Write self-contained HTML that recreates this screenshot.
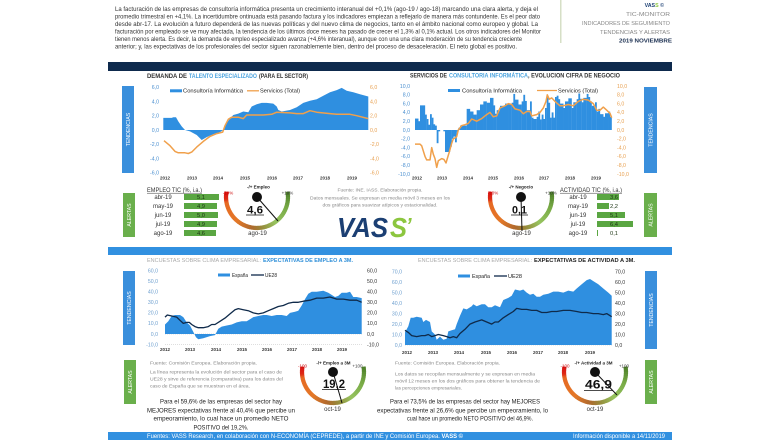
<!DOCTYPE html>
<html><head><meta charset="utf-8">
<style>
html,body{margin:0;padding:0;background:#fff;}
svg{display:block;font-family:"Liberation Sans",sans-serif;}
</style></head><body>
<svg id="s" width="780" height="440" viewBox="0 0 780 440" xmlns="http://www.w3.org/2000/svg">
<rect width="780" height="440" fill="#fff"/>
<!-- header paragraph -->
<g font-size="6.3" fill="#333">
<text x="115" y="11" textLength="423" lengthAdjust="spacingAndGlyphs">La facturación de las empresas de consultoría informática presenta un crecimiento interanual del +0,1% (ago-19 / ago-18) marcando una clara alerta, y deja el</text>
<text x="115" y="18.5" textLength="425" lengthAdjust="spacingAndGlyphs">promedio trimestral en +4,1%. La incertidumbre ontinuada está pasando factura y los indicadores empiezan a reflejarlo de manera más contundente. Es el peor dato</text>
<text x="115" y="26" textLength="423" lengthAdjust="spacingAndGlyphs">desde abr-17. La evolución a futuro dependerá de las nuevas políticas y del nuevo clima de negocios, tanto en el ámbito nacional como europeo y global. La</text>
<text x="115" y="33.5" textLength="426" lengthAdjust="spacingAndGlyphs">facturación por empleado se ve muy afectada, la tendencia de los últimos doce meses ha pasado de crecer el 1,3% al 0,1% actual. Los otros indicadores del Monitor</text>
<text x="115" y="41" textLength="407" lengthAdjust="spacingAndGlyphs">tienen menos alerta. Es decir, la demanda de empleo especializado avanza (+4,6% interanual), aunque con una una clara moderación de su tendencia creciente</text>
<text x="115" y="48.5" textLength="402" lengthAdjust="spacingAndGlyphs">anterior; y, las expectativas de los profesionales del sector siguen razonablemente bien, dentro del proceso de desaceleración. El neto global es positivo.</text>
</g>
<rect x="560" y="0" width="1.5" height="43" fill="#d6dfc6"/>
<g font-size="5.3" fill="#888" text-anchor="end">
<text x="664" y="7" font-weight="bold" fill="#1b3f73">VAS<tspan fill="#8cc63f">S</tspan> ©</text>
<text x="670" y="16" textLength="44" lengthAdjust="spacingAndGlyphs">TIC-MONITOR</text>
<text x="670" y="25" textLength="88" lengthAdjust="spacingAndGlyphs">INDICADORES DE SEGUIMIENTO</text>
<text x="670" y="34" textLength="70" lengthAdjust="spacingAndGlyphs">TENDENCIAS Y ALERTAS</text>
<text x="672" y="42.5" font-weight="bold" fill="#1b2f50" textLength="53" lengthAdjust="spacingAndGlyphs">2019 NOVIEMBRE</text>
</g>
<rect x="108" y="62" width="564" height="9" fill="#0e2a4d"/>

<!-- titles -->
<g font-size="6" font-weight="bold">
<text x="147" y="77.8" fill="#333" textLength="40" lengthAdjust="spacingAndGlyphs">DEMANDA DE</text>
<text x="189" y="77.8" fill="#4aa3df" textLength="68" lengthAdjust="spacingAndGlyphs">TALENTO ESPECIALIZADO</text>
<text x="259" y="77.8" fill="#333" textLength="49" lengthAdjust="spacingAndGlyphs">(PARA EL SECTOR)</text>
<text x="410" y="77.5" fill="#333" textLength="37" lengthAdjust="spacingAndGlyphs">SERVICIOS DE</text>
<text x="449" y="77.5" fill="#4aa3df" textLength="79" lengthAdjust="spacingAndGlyphs">CONSULTORIA INFORMÁTICA</text>
<text x="528" y="77.5" fill="#333" textLength="92" lengthAdjust="spacingAndGlyphs">, EVOLUCION CIFRA DE NEGOCIO</text>
</g>
<g font-size="5.8">
<text x="147" y="262" fill="#aaa" textLength="114" lengthAdjust="spacingAndGlyphs">ENCUESTAS SOBRE CLIMA EMPRESARIAL:</text>
<text x="263" y="262" fill="#2f8fd8" font-weight="bold" textLength="90" lengthAdjust="spacingAndGlyphs">EXPECTATIVAS DE EMPLEO A 3M.</text>
<text x="418" y="262" fill="#aaa" textLength="114" lengthAdjust="spacingAndGlyphs">ENCUESTAS SOBRE CLIMA EMPRESARIAL:</text>
<text x="534" y="262" fill="#222" font-weight="bold" textLength="101" lengthAdjust="spacingAndGlyphs">EXPECTATIVAS DE ACTIVIDAD A 3M.</text>
</g>

<!-- side boxes -->
<g fill="#3a8fdc">
<rect x="122" y="86" width="12" height="87"/>
<rect x="644" y="87" width="13" height="86"/>
<rect x="123" y="271" width="12" height="74"/>
<rect x="645" y="271" width="12" height="78"/>
</g>
<g fill="#6aaf4c">
<rect x="123" y="193" width="12" height="44"/>
<rect x="644" y="193" width="13" height="44"/>
<rect x="124" y="360" width="12" height="44"/>
<rect x="645" y="360" width="12" height="44"/>
</g>
<g font-size="5.2" fill="#fff" text-anchor="middle">
<text transform="translate(130,129.5) rotate(-90)">TENDENCIAS</text>
<text transform="translate(652.5,130) rotate(-90)">TENDENCIAS</text>
<text transform="translate(131,308) rotate(-90)">TENDENCIAS</text>
<text transform="translate(653,310) rotate(-90)">TENDENCIAS</text>
<text transform="translate(131,215) rotate(-90)">ALERTAS</text>
<text transform="translate(652.5,215) rotate(-90)">ALERTAS</text>
<text transform="translate(132,382) rotate(-90)">ALERTAS</text>
<text transform="translate(653,382) rotate(-90)">ALERTAS</text>
</g>

<!-- gridlines bottom charts -->
<line x1="165" y1="334" x2="362" y2="334" stroke="#bbb" stroke-width="0.6" stroke-dasharray="1,1"/>
<line x1="165" y1="344.6" x2="362" y2="344.6" stroke="#ccc" stroke-width="0.6" stroke-dasharray="1,1"/>
<line x1="405" y1="345" x2="612" y2="345" stroke="#bbb" stroke-width="0.6" stroke-dasharray="1,1"/>

<g id="dyn"></g>

<!-- axis labels top-left -->
<g font-size="5.2" fill="#4a8fd0" text-anchor="end">
<text x="159" y="89">6,0</text><text x="159" y="103.3">4,0</text><text x="159" y="117.5">2,0</text><text x="159" y="131.8">0,0</text><text x="159" y="146.1">-2,0</text><text x="159" y="160.3">-4,0</text><text x="159" y="174.6">-6,0</text>
</g>
<g font-size="5.2" fill="#e8a050">
<text x="370" y="89">6,0</text><text x="370" y="103.3">4,0</text><text x="370" y="117.5">2,0</text><text x="370" y="131.8">0,0</text><text x="370" y="146.1">-2,0</text><text x="370" y="160.3">-4,0</text><text x="370" y="174.6">-6,0</text>
</g>
<!-- axis labels top-right -->
<g font-size="5.2" fill="#4a8fd0" text-anchor="end">
<text x="410" y="87.8">10,0</text><text x="410" y="96.6">8,0</text><text x="410" y="105.4">6,0</text><text x="410" y="114.2">4,0</text><text x="410" y="123">2,0</text><text x="410" y="131.8">0,0</text><text x="410" y="140.6">-2,0</text><text x="410" y="149.4">-4,0</text><text x="410" y="158.2">-6,0</text><text x="410" y="167">-8,0</text><text x="410" y="175.8">-10,0</text>
</g>
<g font-size="5.2" fill="#e8a050">
<text x="617" y="87.8">10,0</text><text x="617" y="96.6">8,0</text><text x="617" y="105.4">6,0</text><text x="617" y="114.2">4,0</text><text x="617" y="123">2,0</text><text x="617" y="131.8">0,0</text><text x="617" y="140.6">-2,0</text><text x="617" y="149.4">-4,0</text><text x="617" y="158.2">-6,0</text><text x="617" y="167">-8,0</text><text x="617" y="175.8">-10,0</text>
</g>
<!-- axis labels bottom-left -->
<g font-size="5.2" fill="#6d9fcf" text-anchor="end">
<text x="158" y="272.4">60,0</text><text x="158" y="283">50,0</text><text x="158" y="293.5">40,0</text><text x="158" y="304.1">30,0</text><text x="158" y="314.7">20,0</text><text x="158" y="325.2">10,0</text><text x="158" y="335.8">0,0</text><text x="158" y="346.4">-10,0</text>
</g>
<g font-size="5.2" fill="#333">
<text x="367" y="272.4">60,0</text><text x="367" y="283">50,0</text><text x="367" y="293.5">40,0</text><text x="367" y="304.1">30,0</text><text x="367" y="314.7">20,0</text><text x="367" y="325.2">10,0</text><text x="367" y="335.8">0,0</text><text x="367" y="346.4">-10,0</text>
</g>
<!-- axis labels bottom-right -->
<g font-size="5.2" fill="#6d9fcf" text-anchor="end">
<text x="402" y="273.5">70,0</text><text x="402" y="284">60,0</text><text x="402" y="294.5">50,0</text><text x="402" y="304.9">40,0</text><text x="402" y="315.4">30,0</text><text x="402" y="325.9">20,0</text><text x="402" y="336.3">10,0</text><text x="402" y="346.8">0,0</text>
</g>
<g font-size="5.2" fill="#333">
<text x="615" y="273.5">70,0</text><text x="615" y="284">60,0</text><text x="615" y="294.5">50,0</text><text x="615" y="304.9">40,0</text><text x="615" y="315.4">30,0</text><text x="615" y="325.9">20,0</text><text x="615" y="336.3">10,0</text><text x="615" y="346.8">0,0</text>
</g>
<!-- years -->
<g font-size="4.5" fill="#333" text-anchor="middle" font-weight="bold">
<text x="165" y="179.6">2012</text><text x="192" y="179.6">2013</text><text x="218" y="179.6">2014</text><text x="245" y="179.6">2015</text><text x="272" y="179.6">2016</text><text x="298" y="179.6">2017</text><text x="325" y="179.6">2018</text><text x="352" y="179.6">2019</text>
<text x="417" y="179.6">2012</text><text x="442" y="179.6">2013</text><text x="468" y="179.6">2014</text><text x="493" y="179.6">2015</text><text x="519" y="179.6">2016</text><text x="544" y="179.6">2017</text><text x="570" y="179.6">2018</text><text x="596" y="179.6">2019</text>
<text x="165" y="350.8">2012</text><text x="190" y="350.8">2013</text><text x="216" y="350.8">2014</text><text x="242" y="350.8">2015</text><text x="267" y="350.8">2016</text><text x="292" y="350.8">2017</text><text x="317" y="350.8">2018</text><text x="342" y="350.8">2019</text>
<text x="407" y="353.8">2012</text><text x="433" y="353.8">2013</text><text x="459" y="353.8">2014</text><text x="486" y="353.8">2015</text><text x="512" y="353.8">2016</text><text x="538" y="353.8">2017</text><text x="563" y="353.8">2018</text><text x="590" y="353.8">2019</text>
</g>

<!-- legends -->
<g font-size="5.6" fill="#222">
<rect x="170" y="89.3" width="12" height="3" fill="#2f8fe0"/>
<text x="183" y="92.6" textLength="60" lengthAdjust="spacingAndGlyphs">Consultoría Informática</text>
<line x1="247" y1="90.8" x2="259" y2="90.8" stroke="#f0a04b" stroke-width="1.3"/>
<text x="260" y="92.6" textLength="40" lengthAdjust="spacingAndGlyphs">Servicios (Total)</text>
<rect x="448" y="89" width="12" height="3" fill="#2f8fe0"/>
<text x="462" y="92.3" textLength="60" lengthAdjust="spacingAndGlyphs">Consultoría Informática</text>
<line x1="537" y1="90.5" x2="557" y2="90.5" stroke="#f0a04b" stroke-width="1.3"/>
<text x="558" y="92.3" textLength="40" lengthAdjust="spacingAndGlyphs">Servicios (Total)</text>
<rect x="218" y="273.5" width="12" height="3" fill="#2f8fe0"/>
<text x="232" y="277" textLength="16" lengthAdjust="spacingAndGlyphs">España</text>
<line x1="251" y1="275" x2="264" y2="275" stroke="#0f2a4a" stroke-width="1.3"/>
<text x="265" y="277" textLength="12" lengthAdjust="spacingAndGlyphs">UE28</text>
<rect x="458" y="274.5" width="12" height="3" fill="#2f8fe0"/>
<text x="472" y="278" textLength="18" lengthAdjust="spacingAndGlyphs">España</text>
<line x1="494" y1="276" x2="507" y2="276" stroke="#0f2a4a" stroke-width="1.3"/>
<text x="508" y="278" textLength="14" lengthAdjust="spacingAndGlyphs">UE28</text>
</g>

<!-- alert tables -->
<g font-size="6" fill="#333">
<text x="147" y="192" textLength="55" lengthAdjust="spacingAndGlyphs">EMPLEO TIC (%, i.a.)</text>
<line x1="147" y1="193.2" x2="202" y2="193.2" stroke="#333" stroke-width="0.5"/>
<text x="560" y="192" textLength="62" lengthAdjust="spacingAndGlyphs">ACTIVIDAD TIC (%, i.a.)</text>
<line x1="560" y1="193.2" x2="622" y2="193.2" stroke="#333" stroke-width="0.5"/>
<g text-anchor="middle">
<text x="163" y="199">abr-19</text><text x="163" y="208">may-19</text><text x="163" y="217">jun-19</text><text x="163" y="226">jul-19</text><text x="163" y="235">ago-19</text>
<text x="578" y="199">abr-19</text><text x="578" y="208">may-19</text><text x="578" y="217">jun-19</text><text x="578" y="226">jul-19</text><text x="578" y="235">ago-19</text>
</g>
</g>
<g fill="#5aa642">
<rect x="184" y="194" width="35" height="6"/>
<rect x="184" y="203" width="33" height="6"/>
<rect x="184" y="212" width="34" height="6"/>
<rect x="184" y="221" width="33" height="6"/>
<rect x="184" y="230" width="32" height="6"/>
<rect x="597" y="194" width="22" height="6"/>
<rect x="597" y="203" width="12" height="6"/>
<rect x="597" y="212" width="28" height="6"/>
<rect x="597" y="221" width="36" height="6"/>
<rect x="597" y="230" width="1" height="6"/>
</g>
<g font-size="5.8" fill="#1d3514" text-anchor="middle">
<text x="201" y="199">5,1</text><text x="201" y="208">4,9</text><text x="201" y="217">5,0</text><text x="201" y="226">4,9</text><text x="201" y="235">4,6</text>
<text x="614" y="199">3,6</text><text x="614" y="208">2,2</text><text x="614" y="217">5,1</text><text x="614" y="226">6,4</text><text x="614" y="235">0,1</text>
</g>

<!-- notes top -->
<g font-size="4.8" fill="#888" text-anchor="middle">
<text x="380" y="191.7" textLength="85" lengthAdjust="spacingAndGlyphs">Fuente: INE. IASS. Elaboración propia.</text>
<text x="380" y="199.5" textLength="140" lengthAdjust="spacingAndGlyphs">Datos mensuales. Se expresan en media móvil 3 meses en los</text>
<text x="380" y="206.7" textLength="115" lengthAdjust="spacingAndGlyphs">dos gráficos para suavizar atípicos y estacionalidad.</text>
</g>
<!-- VASS logo -->
<g font-weight="bold" font-style="italic" font-size="28">
<text x="337" y="237" fill="#1b3f73" textLength="51" lengthAdjust="spacingAndGlyphs">VAS</text>
<text x="390" y="237" fill="#8cc63f" textLength="17" lengthAdjust="spacingAndGlyphs">S</text>
<text x="406" y="232" fill="#8cc63f" font-size="20">’</text>
</g>

<!-- separator bar -->
<rect x="108" y="247" width="564" height="8" fill="#3190e0"/>

<!-- bottom notes -->
<g font-size="4.8" fill="#888">
<text x="150" y="364.7" textLength="107" lengthAdjust="spacingAndGlyphs">Fuente: Comisión Europea. Elaboración propia.</text>
<text x="150" y="373.7" textLength="132" lengthAdjust="spacingAndGlyphs">La línea representa la evolución del sector para el caso de</text>
<text x="150" y="380.7" textLength="133" lengthAdjust="spacingAndGlyphs">UE28 y sirve de referencia (comparativa) para los datos del</text>
<text x="150" y="387.7" textLength="100" lengthAdjust="spacingAndGlyphs">caso de España que se muestran en el área.</text>
<text x="395" y="364.7" textLength="105" lengthAdjust="spacingAndGlyphs">Fuente: Comisión Europea. Elaboración propia.</text>
<text x="395" y="375.7" textLength="140" lengthAdjust="spacingAndGlyphs">Los datos se recopilan mensualmente y  se expresan en media</text>
<text x="395" y="382.7" textLength="145" lengthAdjust="spacingAndGlyphs">móvil 12 meses  en los dos gráficos para obtener la tendencia de</text>
<text x="395" y="389.7" textLength="67" lengthAdjust="spacingAndGlyphs">las percepciones empresariales.</text>
</g>
<g font-size="6.6" fill="#222" text-anchor="middle">
<text x="221" y="403.3" textLength="122" lengthAdjust="spacingAndGlyphs">Para el 59,6% de las empresas del sector hay</text>
<text x="221" y="412.3" textLength="148" lengthAdjust="spacingAndGlyphs">MEJORES expectativas frente al 40,4% que percibe un</text>
<text x="221" y="420.3" textLength="135" lengthAdjust="spacingAndGlyphs">empeoramiento, lo cual hace un promedio NETO</text>
<text x="221" y="429.3" textLength="55" lengthAdjust="spacingAndGlyphs">POSITIVO del 19,2%.</text>
<text x="465" y="403.3" textLength="150" lengthAdjust="spacingAndGlyphs">Para el 73,5% de las empresas del sector hay MEJORES</text>
<text x="462.5" y="412.3" textLength="171" lengthAdjust="spacingAndGlyphs">expectativas frente al 26,6% que percibe un empeoramiento, lo</text>
<text x="470" y="420.3" textLength="126" lengthAdjust="spacingAndGlyphs">cual hace un promedio NETO POSITIVO del 46,9%.</text>
</g>

<!-- footer -->
<rect x="108" y="432" width="564" height="8" fill="#3190e0"/>
<g font-size="6" fill="#fff">
<text x="147" y="438.2" textLength="316" lengthAdjust="spacingAndGlyphs">Fuentes: VASS Research, en colaboración con N-ECONOMÍA (CEPREDE), a partir de INE y Comisión Europea. <tspan font-weight="bold">VASS ©</tspan></text>
<text x="665" y="438.2" text-anchor="end" textLength="92" lengthAdjust="spacingAndGlyphs">Información disponible a 14/11/2019</text>
</g>

<!-- gauge labels -->
<g id="gauges"></g>
<g font-size="4.5">
<text x="258.5" y="188.5" text-anchor="middle" font-weight="bold" fill="#222">-/+ Empleo</text>
<text x="228" y="194.5" text-anchor="middle" fill="#c00">-10%</text>
<text x="287.5" y="194.5" text-anchor="middle" fill="#333">+10%</text>
<text x="521" y="188.5" text-anchor="middle" font-weight="bold" fill="#222">-/+ Negocio</text>
<text x="493" y="194.5" text-anchor="middle" fill="#c00">-10%</text>
<text x="551" y="194.5" text-anchor="middle" fill="#333">+10%</text>
<text x="333.5" y="364.5" text-anchor="middle" font-weight="bold" fill="#222">-/+ Empleo a 3M</text>
<text x="302.5" y="367.5" text-anchor="middle" fill="#c00">-100</text>
<text x="357.5" y="367.5" text-anchor="middle" fill="#333">+100</text>
<text x="593.5" y="364.5" text-anchor="middle" font-weight="bold" fill="#222">-/+ Actividad a 3M</text>
<text x="565" y="367.5" text-anchor="middle" fill="#c00">-100</text>
<text x="624" y="367.5" text-anchor="middle" fill="#333">+100</text>
</g>
<g font-size="6" fill="#333" text-anchor="middle">
<text x="257.5" y="235">ago-19</text>
<text x="521.5" y="235">ago-19</text>
<text x="332.5" y="411">oct-19</text>
<text x="595" y="411">oct-19</text>
</g>
<g font-weight="bold" fill="#111" text-anchor="middle">
<text x="255" y="213.5" font-size="11" textLength="16" lengthAdjust="spacingAndGlyphs">4,6</text>
<line x1="246" y1="215" x2="264" y2="215" stroke="#111" stroke-width="0.8"/>
<text x="519.5" y="213.5" font-size="11" textLength="15" lengthAdjust="spacingAndGlyphs">0,1</text>
<line x1="511" y1="215" x2="528" y2="215" stroke="#111" stroke-width="0.8"/>
<text x="334" y="388" font-size="12" textLength="22" lengthAdjust="spacingAndGlyphs">19,2</text>
<line x1="322" y1="389.5" x2="346" y2="389.5" stroke="#111" stroke-width="0.8"/>
<text x="598.5" y="388.5" font-size="12" textLength="27" lengthAdjust="spacingAndGlyphs">46,9</text>
<line x1="584" y1="390.5" x2="613" y2="390.5" stroke="#111" stroke-width="0.8"/>
</g>
</svg>
<script>
(function(){
var NS='http://www.w3.org/2000/svg';
var dyn=document.getElementById('dyn');
var gg=document.getElementById('gauges');
function el(p,tag,a){var e=document.createElementNS(NS,tag);for(var k in a)e.setAttribute(k,a[k]);p.appendChild(e);return e;}
function pts(d,ox,base,k){return d.map(function(q){return [ox+q[0]/3, base-k*q[1]];});}
function str(p){return p.map(function(q){return q[0].toFixed(1)+','+q[1].toFixed(1);}).join(' ');}
function area(d,ox,base,k,c){var p=pts(d,ox,base,k);var s=str(p)+' '+p[p.length-1][0].toFixed(1)+','+base+' '+p[0][0].toFixed(1)+','+base;el(dyn,'polygon',{points:s,fill:c});}
function line(d,ox,base,k,c,w){el(dyn,'polyline',{points:str(pts(d,ox,base,k)),fill:'none',stroke:c,'stroke-width':w,'stroke-linejoin':'round'});}
function bars(d,ox,base,k,c){d.forEach(function(b){var x=ox+b[0]/3,w=(b[1]-b[0])/3,h=k*b[2];var y=h>=0?base-h:base;el(dyn,'rect',{x:x.toFixed(2),y:y.toFixed(2),width:(w+0.15).toFixed(2),height:Math.abs(h).toFixed(2),fill:c});});}

var BLUE='#2f8fe0',ORG='#f0a04b',NAVY='#0f2a4a';
area([[220,1.7],[245,1.7],[250,1.8],[258,1.8],[265,1.2],[275,0.5],[285,0],[300,-0.2],[320,-0.7],[335,-1.4],[350,-1.0],[370,-0.6],[390,-0.3],[400,0],[410,1.0],[420,1.6],[430,2.1],[445,2.3],[460,2.6],[475,2.5],[485,3.3],[500,3.6],[515,3.8],[530,3.8],[550,3.7],[560,3.3],[565,2.8],[575,2.6],[600,2.8],[620,3.2],[640,3.8],[660,4.1],[680,4.3],[700,4.8],[720,5.3],[740,5.6],[755,5.9],[770,5.5],[790,5.3],[810,5.0],[835,4.7]],90,130,7.13,BLUE);
line([[222,-1.5],[240,-2.2],[255,-3.0],[265,-3.2],[285,-3.2],[295,-3.3],[305,-3.1],[320,-2.4],[340,-1.6],[360,-0.9],[380,-0.5],[398,-0.3],[405,0.6],[415,1.5],[425,1.8],[445,1.8],[460,1.6],[470,2.1],[490,2.1],[520,2.1],[545,2.2],[560,2.5],[600,2.4],[620,2.3],[640,2.3],[660,2.7],[680,2.5],[720,2.3],[740,2.2],[780,2.2],[800,2.0],[835,1.6]],90,130,7.13,ORG,1.5);
bars([[75,85,2.6],[85,90,2.0],[90,105,5.6],[105,110,3.5],[110,115,2.5],[115,120,1.2],[120,125,3.6],[125,130,2.8],[130,135,1.3],[135,140,1.0],[140,145,-3.0],[145,150,-0.3],[160,165,-0.3],[165,180,-5.0],[180,185,-3.8],[185,190,-2.0],[190,195,-1.5],[195,200,-2.8],[200,205,-0.5],[205,210,0.5],[210,230,1.0],[230,240,4.8],[240,250,4.2],[250,260,3.5],[260,270,4.5],[270,280,5.8],[280,290,6.5],[290,300,6.2],[300,310,7.3],[310,315,5.6],[315,320,3.7],[320,330,4.5],[330,345,5.5],[345,355,6.0],[355,365,5.8],[365,370,6.2],[370,375,8.2],[375,385,6.9],[385,395,5.8],[395,400,6.5],[400,405,8.0],[405,410,6.6],[410,420,4.5],[420,425,6.5],[425,430,2.8],[430,440,2.5],[440,445,3.0],[445,450,4.2],[450,455,2.4],[455,460,3.5],[460,465,2.5],[465,470,5.0],[470,475,7.8],[475,480,6.2],[480,485,2.8],[485,490,4.0],[490,495,2.8],[495,500,7.5],[500,505,7.8],[505,510,7.0],[510,520,6.0],[520,525,5.0],[525,535,6.5],[535,545,7.2],[545,550,5.0],[550,560,6.3],[560,565,7.0],[565,570,8.3],[570,575,7.1],[575,580,6.3],[580,590,7.3],[590,595,8.2],[595,600,7.5],[600,605,6.5],[605,615,5.5],[615,620,6.3],[620,625,4.2],[625,630,4.8],[630,640,3.6],[640,645,3.0],[645,655,3.8],[655,660,4.2],[660,665,3.0]],390,130,4.4,BLUE);
line([[75,-3.2],[90,-3.2],[95,-3.6],[105,-6.0],[110,-6.8],[120,-6.8],[125,-4.0],[130,-5.5],[135,-6.5],[140,-8.5],[145,-7.0],[155,-6.5],[162,-6.7],[168,-7.5],[172,-6.5],[178,-5.0],[185,-3.0],[190,-2.0],[195,-1.8],[200,-1.5],[205,0],[215,1.0],[225,1.2],[235,1.5],[245,2.5],[260,2.0],[275,2.6],[290,3.5],[300,4.0],[310,3.0],[320,3.2],[330,5.0],[345,5.5],[355,6.0],[365,5.8],[375,4.8],[390,4.5],[400,3.7],[410,4.2],[420,4.2],[425,3.2],[440,3.5],[450,4.0],[460,5.0],[468,6.5],[472,8.0],[478,7.0],[485,7.3],[495,6.5],[510,5.5],[520,5.5],[535,5.8],[550,5.5],[565,6.5],[580,7.0],[595,6.8],[610,6.0],[620,4.5],[630,4.5],[640,5.2],[650,4.5],[660,3.8],[665,2.8]],390,130,4.4,ORG,1.5);
area([[225,9],[235,12],[245,17],[255,18],[270,18],[280,16],[290,11],[300,8],[310,2],[318,-3],[325,-5],[340,-4],[360,-2],[375,-1],[385,5],[395,7],[410,8],[425,9],[440,11],[455,12],[470,12],[480,14],[490,16],[505,17],[520,18],[530,18],[545,17],[560,18],[575,18],[590,17],[600,20],[615,21],[625,22],[635,27],[645,33],[655,38],[665,40],[680,40],[700,41],[715,39],[725,37],[735,35],[745,36],[755,39],[770,39],[780,40],[790,35],[800,35],[815,34]],90,334,1.057,BLUE);
line([[225,16],[232,18],[245,17],[260,16],[270,13],[280,10],[290,11],[298,11],[305,9],[315,7],[325,6],[340,6],[355,7],[365,9],[375,9],[390,12],[405,15],[420,19],[435,23],[445,24],[460,23],[475,22],[490,20],[505,19],[520,20],[535,22],[550,24],[565,26],[580,27],[595,29],[610,30],[625,30],[640,31],[660,32],[680,34],[700,34],[720,35],[740,33],[760,33],[780,32],[800,32],[815,30]],90,334,1.057,NAVY,1.3);
area([[45,12],[55,18],[62,26],[70,26],[80,27],[95,26],[100,22],[108,24],[120,22],[125,13],[135,10],[140,5],[150,8],[160,5],[170,6],[175,13],[185,14],[195,15],[200,20],[210,28],[220,35],[230,34],[245,37],[250,39],[260,37],[275,39],[285,39],[295,36],[305,36],[315,38],[330,36],[340,43],[355,45],[365,47],[375,53],[390,52],[400,53],[410,50],[420,48],[430,49],[440,46],[450,46],[460,48],[475,49],[490,51],[505,51],[520,50],[535,52],[550,51],[560,54],[575,58],[590,62],[600,63],[610,61],[625,58],[640,54],[655,50],[665,47]],390,345,1.047,BLUE);
line([[45,14],[55,12],[65,9],[80,8],[95,9],[105,9],[115,10],[125,8],[135,9],[145,10],[160,9],[170,8],[180,7],[190,8],[200,7],[210,11],[225,15],[240,20],[255,22],[275,24],[290,22],[305,20],[315,22],[325,22],[340,26],[355,29],[370,32],[380,35],[395,34],[410,34],[425,33],[440,33],[455,31],[470,31],[485,32],[500,32],[520,33],[540,33],[560,32],[575,31],[590,31],[610,30],[625,30],[640,29],[650,30],[665,27]],390,345,1.047,NAVY,1.3);

var stops=[[0,[215,20,20]],[0.07,[222,40,20]],[0.1,[230,105,35]],[0.3,[228,120,40]],[0.45,[175,105,45]],[0.55,[150,140,60]],[0.68,[150,195,95]],[0.85,[120,170,70]],[1,[75,125,40]]];
function col(t){for(var i=0;i<stops.length-1;i++){var a=stops[i],b=stops[i+1];if(t<=b[0]){var f=(t-a[0])/(b[0]-a[0]);return 'rgb('+[0,1,2].map(function(j){return Math.round(a[1][j]+(b[1][j]-a[1][j])*f);}).join(',')+')';}}return 'rgb(75,125,40)';}
function gauge(cx,cy,r,nx,ny){
 var N=60,a0=190,a1=-10;
 for(var i=0;i<N;i++){
  var t0=i/N,t1=Math.min(1,(i+1.3)/N);
  var th0=(a0+(a1-a0)*t0)*Math.PI/180, th1=(a0+(a1-a0)*t1)*Math.PI/180;
  el(gg,'line',{x1:(cx+r*Math.cos(th0)).toFixed(2),y1:(cy+r*Math.sin(th0)).toFixed(2),x2:(cx+r*Math.cos(th1)).toFixed(2),y2:(cy+r*Math.sin(th1)).toFixed(2),stroke:col((i+0.5)/N),'stroke-width':4.2});
 }
 el(gg,'line',{x1:cx,y1:cy,x2:nx,y2:ny,stroke:'#111','stroke-width':1});
 el(gg,'circle',{cx:cx,cy:cy,r:5,fill:'#111'});
}
gauge(257,197,31,278,221);
gauge(521,197,31,522,231);
gauge(333,372,31,342,403);
gauge(595,372,31,617,395);
})();
</script>
</body></html>
